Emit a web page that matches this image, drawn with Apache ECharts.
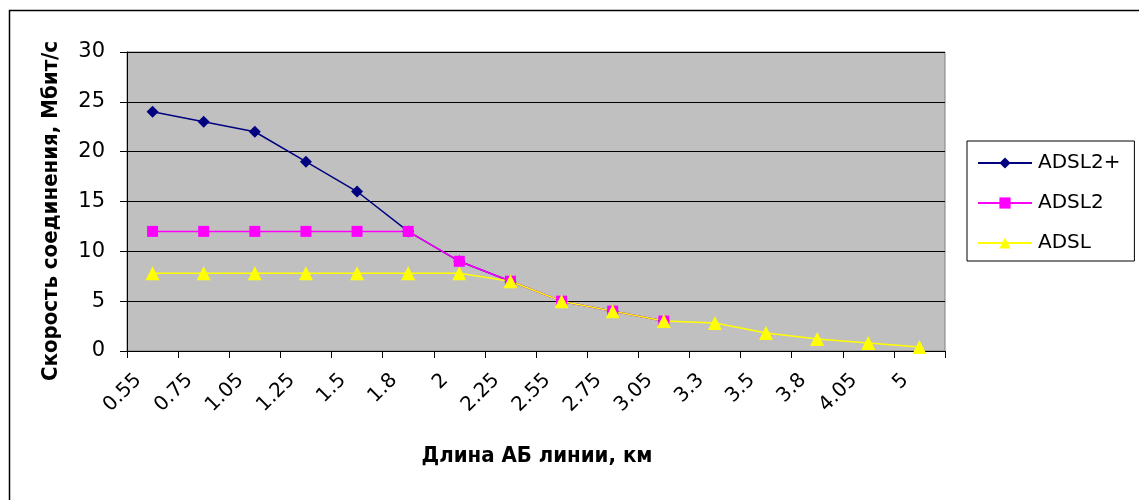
<!DOCTYPE html>
<html>
<head>
<meta charset="utf-8">
<script src="https://cdn.jsdelivr.net/npm/echarts@6/dist/echarts.min.js"></script>
<style>
  html, body { margin: 0; padding: 0; background: #fff; }
  #chart { width: 1139px; height: 500px; }
</style>
</head>
<body>
<div id="chart"></div>
<script>
// длина линии, км
const distances = ["0.55", "0.75", "1.05", "1.25", "1.5", "1.8", "2", "2.25", "2.55", "2.75", "3.05", "3.3", "3.5", "3.8", "4.05", "5"];
// скорость, Мбит/с
const adsl2plus = [24, 23, 22, 19, 16, 12, 9, 7, 5, 4, 3, null, null, null, null, null];
const adsl2 = [12, 12, 12, 12, 12, 12, 9, 7, 5, 4, 3, null, null, null, null, null];
const adsl = [7.8, 7.8, 7.8, 7.8, 7.8, 7.8, 7.8, 7, 5, 4, 3, 2.8, 1.8, 1.2, 0.8, 0.4];

const font = "DejaVu Sans";
const titleFont = "bold 22px 'DejaVu Sans Condensed', 'DejaVu Sans'";
const chart = echarts.init(document.getElementById("chart"), null, { renderer: "canvas" });

const option = {
  animation: false,
  textStyle: { fontFamily: font, color: "#000" },
  graphic: [
    {
      type: "rect",
      shape: { x: 9.5, y: 10.5, width: 1200, height: 600 },
      style: { fill: "none", stroke: "#000", lineWidth: 1.5 },
      silent: true
    },
    {
      type: "text",
      x: 537,
      y: 456,
      style: {
        text: "Длина АБ линии, км",
        font: titleFont,
        fill: "#000",
        align: "center",
        verticalAlign: "middle"
      }
    },
    {
      type: "text",
      x: 51,
      y: 211,
      rotation: Math.PI / 2,
      style: {
        text: "Скорость соединения, Мбит/с",
        font: titleFont,
        fill: "#000",
        align: "center",
        verticalAlign: "middle"
      }
    }
  ],
  grid: {
    left: 127,
    top: 52,
    width: 818,
    height: 299,
    show: true,
    backgroundColor: "#c0c0c0",
    borderColor: "#808080",
    borderWidth: 1
  },
  legend: {
    orient: "vertical",
    left: 967,
    top: 141,
    padding: [12, 14, 8, 10],
    itemGap: 20,
    itemWidth: 54,
    itemHeight: 14,
    borderColor: "#000",
    borderWidth: 1,
    textStyle: { fontFamily: font, fontSize: 20, lineHeight: 20, color: "#000", padding: [0, 0, 0, 1] },
    data: ["ADSL2+", "ADSL2", "ADSL"]
  },
  xAxis: {
    type: "category",
    data: distances,
    boundaryGap: true,
    axisLine: { lineStyle: { color: "#000", width: 1 } },
    axisTick: { show: true, alignWithLabel: false, length: 7, lineStyle: { color: "#000" } },
    axisLabel: { rotate: 45, fontSize: 20, color: "#000", margin: 12, interval: 0, padding: [0, 20, 0, 0] },
    splitLine: { show: false }
  },
  yAxis: {
    type: "value",
    min: 0,
    max: 30,
    interval: 5,
    axisLine: { show: true, lineStyle: { color: "#000", width: 1 } },
    axisTick: { show: true, length: 7, lineStyle: { color: "#000" } },
    axisLabel: { fontSize: 21, color: "#000", margin: 22 },
    splitLine: { lineStyle: { color: "#000", width: 1 } }
  },
  series: [
    {
      name: "ADSL2+",
      type: "line",
      data: adsl2plus,
      symbol: "diamond",
      symbolSize: 12,
      lineStyle: { color: "#000080", width: 1.5 },
      itemStyle: { color: "#000080" }
    },
    {
      name: "ADSL2",
      type: "line",
      data: adsl2,
      symbol: "rect",
      symbolSize: 11,
      lineStyle: { color: "#ff00ff", width: 1.5 },
      itemStyle: { color: "#ff00ff" }
    },
    {
      name: "ADSL",
      type: "line",
      data: adsl,
      symbol: "triangle",
      symbolSize: 14,
      lineStyle: { color: "#ffff00", width: 1.5 },
      itemStyle: { color: "#ffff00" }
    }
  ]
};

chart.setOption(option);
</script>
</body>
</html>
